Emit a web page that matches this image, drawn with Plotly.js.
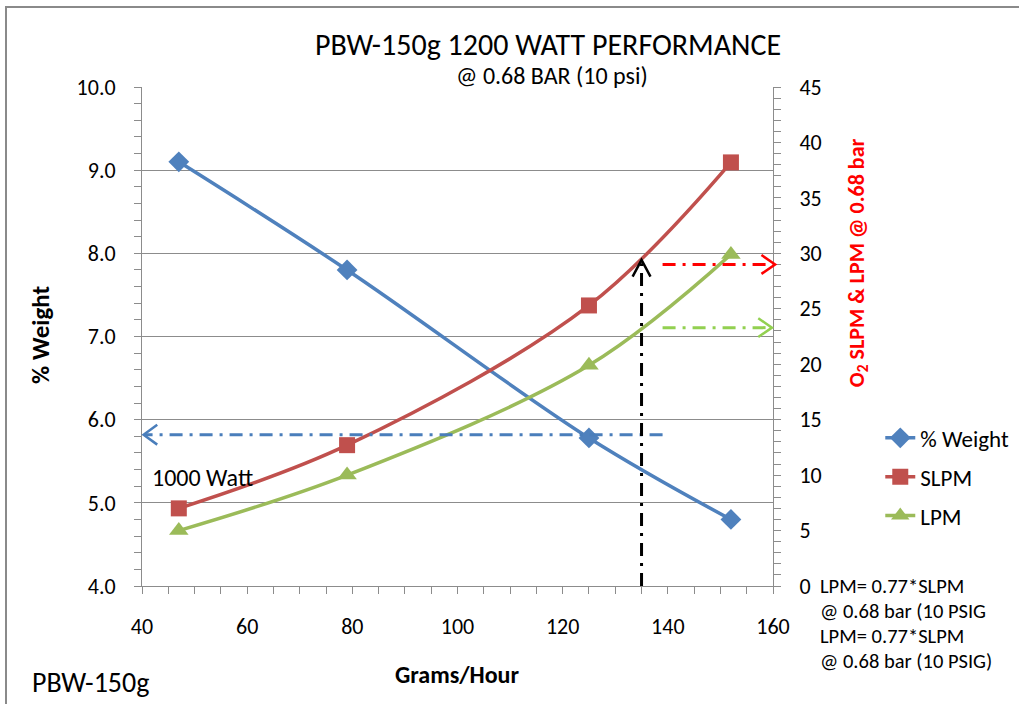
<!DOCTYPE html>
<html>
<head>
<meta charset="utf-8">
<script src="https://cdn.plot.ly/plotly-3.0.1.min.js"></script>
<style>
  html, body { margin: 0; padding: 0; background: #fff; }
  #wrap { position: relative; width: 1019px; height: 704px; }
  #chart { position: absolute; left: 0; top: 0; width: 1019px; height: 704px; }
  #frame { position: absolute; left: 5px; top: 6px; width: 1020px; height: 710px;
           border-left: 2px solid #8a8a8a; border-top: 2px solid #8a8a8a; pointer-events: none; }
</style>
</head>
<body>
<div id="wrap"><div id="chart"></div><div id="frame"></div></div>
<script>
// ---- data ----
const gramsPerHour = [47, 79, 125, 152];
const pctWeight    = [9.1, 7.8, 5.78, 4.8];
const slpm         = [7.0, 12.7, 25.3, 38.2];
const lpm          = [5.0, 10.0, 19.9, 29.9];
const seriesNames  = ['% Weight', 'SLPM', 'LPM'];

// guide arrows
const guideX        = 135;   // grams/hour for the vertical guide
const guideTopY2    = 29.4;  // top of vertical guide (right axis)
const guideStartX   = 139;   // start of horizontal guides
const weightGuideY  = 5.82;  // % weight guide (left axis)
const slpmGuideY2   = 29.0;
const lpmGuideY2    = 23.3;
const slpmGuideEndX = 160.4;
const lpmGuideEndX  = 159.8;
const weightGuideEndX = 40.3;

const xRange = [40, 160], y1Range = [4, 10], y2Range = [0, 45];

const FONT = 'Carlito, Lato, "Open Sans", sans-serif';
const GRID = '#8c8c8c';

const px = x => (x - xRange[0]) / (xRange[1] - xRange[0]); // data x -> paper

const traces = [
  { x: gramsPerHour, y: pctWeight, name: seriesNames[0], yaxis: 'y', legendgroup: 'a',
    mode: 'lines+markers', line: { color: '#4F81BD', width: 3.5, shape: 'spline' },
    marker: { symbol: 'diamond', size: 16, color: '#4F81BD' } },
  { x: gramsPerHour, y: slpm, name: seriesNames[1], yaxis: 'y2', legendgroup: 'b',
    mode: 'lines+markers', line: { color: '#C0504D', width: 3.5, shape: 'spline' },
    marker: { symbol: 'square', size: 16, color: '#C0504D' } },
  { x: gramsPerHour, y: lpm, name: seriesNames[2], yaxis: 'y2', legendgroup: 'c',
    mode: 'lines+markers', line: { color: '#9BBB59', width: 3.5, shape: 'spline' },
    marker: { symbol: 'triangle-up', size: 17, color: '#9BBB59' } }
];

// chevron helpers (sizes in data units)
function chevH(tipX, y, dir, yref, dx, dy) {
  const bx = px(tipX - dir * dx), tx = px(tipX);
  return { type: 'path', xref: 'paper', yref: yref,
    path: `M ${bx} ${y + dy} L ${tx} ${y} L ${bx} ${y - dy}` };
}
const shapes = [];
function hline(x0, x1, y, yref, color) {
  shapes.push({ type: 'line', xref: 'paper', yref: yref, x0: px(x0), x1: px(x1), y0: y, y1: y,
    line: { color: color, width: 3, dash: '13px,7px,3px,7px' } });
}
// blue (left axis) pointing left
hline(guideStartX, weightGuideEndX + 0.3, weightGuideY, 'y', '#4A7EBB');
shapes.push(Object.assign(chevH(weightGuideEndX, weightGuideY, -1, 'y', 2.6, 0.12),
  { line: { color: '#4A7EBB', width: 2.5 } }));
// red
hline(guideStartX, slpmGuideEndX - 0.3, slpmGuideY2, 'y2', '#FF0000');
shapes.push(Object.assign(chevH(slpmGuideEndX, slpmGuideY2, 1, 'y2', 2.6, 0.85),
  { line: { color: '#FF0000', width: 2.5 } }));
// green
hline(guideStartX, lpmGuideEndX - 0.3, lpmGuideY2, 'y2', '#92D050');
shapes.push(Object.assign(chevH(lpmGuideEndX, lpmGuideY2, 1, 'y2', 2.6, 0.85),
  { line: { color: '#92D050', width: 2.5 } }));
// black vertical
shapes.push({ type: 'line', xref: 'paper', yref: 'y2', x0: px(guideX), x1: px(guideX),
  y0: y2Range[0], y1: guideTopY2 - 0.3, line: { color: '#000', width: 3, dash: '13px,7px,3px,7px' } });
shapes.push({ type: 'path', xref: 'paper', yref: 'y2',
  path: `M ${px(guideX - 1.7)} ${guideTopY2 - 1.5} L ${px(guideX)} ${guideTopY2} L ${px(guideX + 1.7)} ${guideTopY2 - 1.5}`,
  line: { color: '#000', width: 2.5 } });

const ann = (text, x, y, size, o) => Object.assign({ text, x, y, xref: 'paper', yref: 'paper',
  xanchor: 'center', yanchor: 'middle',
  showarrow: false, font: { family: FONT, size: size, color: '#000' } }, o || {});

const annotations = [
  ann('PBW-150g 1200 WATT PERFORMANCE', 0.643, 1.086, 30),
  ann('@ 0.68 BAR (10 psi)', 0.65, 1.024, 24),
  ann('<b>% Weight</b>', -0.1617, 0.503, 25, { textangle: -90 }),
  ann('<b>O<sub>2</sub> SLPM & LPM @ 0.68 bar</b>', 1.1347, 0.649, 22, { textangle: -90,
      font: { family: FONT, size: 22, color: '#FF0000' } }),
  ann('<b>Grams/Hour</b>', 0.499, -0.178, 24),
  ann('PBW-150g', -0.1775, -0.194, 28, { xanchor: 'left' }),
  ann('1000 Watt', px(41.5), 5.30, 24, { xanchor: 'left', yref: 'y' }),
  ann('LPM= 0.77*SLPM', 1.0713, 0.0, 20.5, { xanchor: 'left' }),
  ann('@ 0.68 bar (10 PSIG', 1.0713, -0.050, 20.5, { xanchor: 'left' }),
  ann('LPM= 0.77*SLPM', 1.0713, -0.100, 20.5, { xanchor: 'left' }),
  ann('@ 0.68 bar (10 PSIG)', 1.0713, -0.150, 20.5, { xanchor: 'left' })
];

const tickFont = { family: FONT, size: 22, color: '#000' };

const layout = {
  width: 1019, height: 704,
  margin: { l: 142, r: 246, t: 87, b: 118, pad: 0, autoexpand: false },
  paper_bgcolor: 'rgba(0,0,0,0)', plot_bgcolor: '#fff',
  font: { family: FONT, size: 18, color: '#000' },
  showlegend: true,
  legend: { x: 1.17, y: 0.34, xanchor: 'left', yanchor: 'top', tracegroupgap: 6,
            font: { family: FONT, size: 23, color: '#000' }, bgcolor: 'rgba(0,0,0,0)' },
  xaxis: { range: xRange, dtick: 20, tick0: 40, showgrid: false, zeroline: false,
           showline: true, linecolor: GRID, linewidth: 1,
           ticks: 'outside', ticklen: 7, tickcolor: GRID, ticklabelstandoff: 14,
           minor: { dtick: 5, ticks: 'outside', ticklen: 7, tickcolor: GRID, showgrid: false },
           tickfont: tickFont },
  yaxis: { range: y1Range, dtick: 1, tick0: 4, tickformat: '.1f', showgrid: true, gridcolor: GRID,
           zeroline: false, showline: true, linecolor: GRID, linewidth: 1,
           ticks: 'outside', ticklen: 7, tickcolor: GRID, ticklabelstandoff: 14,
           minor: { dtick: 0.2, ticks: 'outside', ticklen: 7, tickcolor: GRID, showgrid: false },
           tickfont: tickFont },
  yaxis2: { range: y2Range, dtick: 5, tick0: 0, overlaying: 'y', side: 'right', showgrid: false,
           zeroline: false, showline: true, linecolor: GRID, linewidth: 1,
           ticks: 'outside', ticklen: 7, tickcolor: GRID, ticklabelstandoff: 14,
           minor: { dtick: 1, ticks: 'outside', ticklen: 7, tickcolor: GRID, showgrid: false },
           tickfont: tickFont },
  shapes: shapes,
  annotations: annotations
};

Plotly.newPlot('chart', traces, layout, { displayModeBar: false, staticPlot: true });
</script>
</body>
</html>
